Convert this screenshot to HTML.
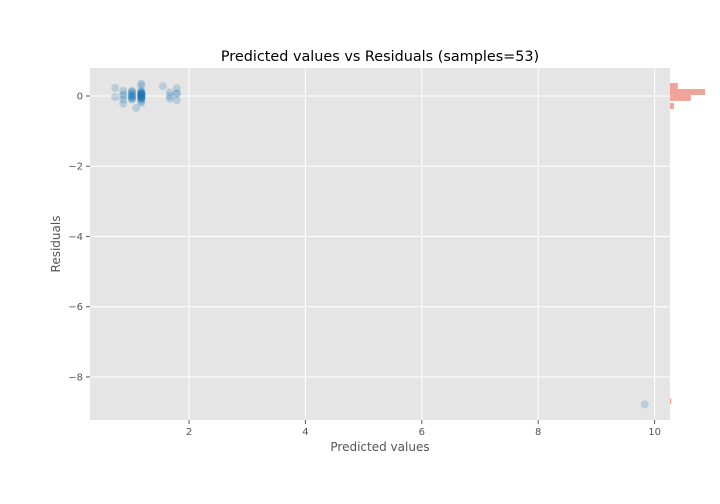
<!DOCTYPE html>
<html><head><meta charset="utf-8"><style>
body{margin:0;background:#fff;overflow:hidden;}
svg{display:block;}
svg text{font-family:"DejaVu Sans","Liberation Sans",sans-serif;}
</style></head><body>
<svg id="chart" width="720" height="504" xmlns="http://www.w3.org/2000/svg">
<rect x="90" y="68" width="580" height="352" fill="#E5E5E5"/>
<g id="grid"></g>
<g id="ticks"></g>
<g id="points"></g>
<g id="hist"></g>
<text x="380" y="61" text-anchor="middle" font-size="14.4" fill="#000">Predicted values vs Residuals (samples=53)</text>
<text x="380" y="451" text-anchor="middle" font-size="12" fill="#555">Predicted values</text>
<text x="60" y="244" text-anchor="middle" font-size="12" fill="#555" transform="rotate(-90 60 244)">Residuals</text>
</svg>
<script>
const xTicks=[2,4,6,8,10];
const yTicks=[0,-2,-4,-6,-8];
const predicted=[0.73,0.73,0.87,0.87,0.87,0.87,1.02,1.02,1.02,1.02,1.02,1.02,1.02,1.02,1.09,1.18,1.18,1.18,1.18,1.18,1.18,1.18,1.18,1.18,1.18,1.18,1.18,1.18,1.18,1.18,1.18,1.18,1.18,1.18,1.18,1.18,1.18,1.18,1.18,1.18,1.55,1.67,1.67,1.67,1.79,1.79,1.79,1.79,1.02,1.02,0.87,1.18,9.83];
const residuals=[0.23,-0.03,0.15,0.0,-0.1,-0.22,0.15,0.1,0.05,0.0,-0.05,-0.1,0.02,-0.02,-0.34,0.35,0.3,0.15,0.1,0.08,0.05,0.03,0.02,0.0,-0.02,-0.04,-0.05,-0.08,-0.1,-0.15,-0.2,0.12,0.06,0.01,-0.01,0.04,-0.03,0.07,0.09,-0.06,0.28,0.1,-0.08,0.0,0.22,0.05,-0.12,0.08,0.12,-0.08,0.05,0.0,-8.78];
const binStarts=[0.2,0.03,-0.14,-0.37,-8.78];
const binCounts=[6,27,16,3,1];
const binWidth=0.17;
const NS='http://www.w3.org/2000/svg';
const X=v=>189+(v-2)*58.2;
const Y=v=>96-v*35.12;
const C=v=>v*1.3;
function mk(t,a,p){const e=document.createElementNS(NS,t);for(const k in a)e.setAttribute(k,a[k]);document.getElementById(p).appendChild(e);return e;}
xTicks.forEach(t=>{
 const l=mk('line',{x1:X(t),x2:X(t),y1:68,y2:420,stroke:'#fff','stroke-width':1},'grid');
 
 
 const k=mk('line',{x1:X(t),x2:X(t),y1:420,y2:424,stroke:'#555'},'ticks');
 
 
 const s=mk('text',{x:X(t),y:435,'text-anchor':'middle','font-size':10,fill:'#555'},'ticks');
 s.textContent=t;
 
 
});
yTicks.forEach(t=>{
 const l=mk('line',{x1:90,x2:670,y1:Y(t),y2:Y(t),stroke:'#fff','stroke-width':1},'grid');
 
 
 const k=mk('line',{x1:86,x2:90,y1:Y(t),y2:Y(t),stroke:'#555'},'ticks');
 
 
 const s=mk('text',{x:83,y:Y(t)+3.5,'text-anchor':'end','font-size':10,fill:'#555'},'ticks');
 s.textContent=t===0?'0':'\u2212'+Math.abs(t);
 
 
});
predicted.forEach((p,i)=>{
 const c=mk('circle',{cx:X(p),cy:Y(residuals[i]),r:4,fill:'#1f77b4','fill-opacity':0.22},'points');
 
 
});
binStarts.forEach((b,i)=>{
 const r=mk('rect',{x:670,y:Y(b+binWidth),width:C(binCounts[i]),height:binWidth*35.12,fill:'#E24A33','fill-opacity':0.5},'hist');
 
 
});
</script>
</body></html>
